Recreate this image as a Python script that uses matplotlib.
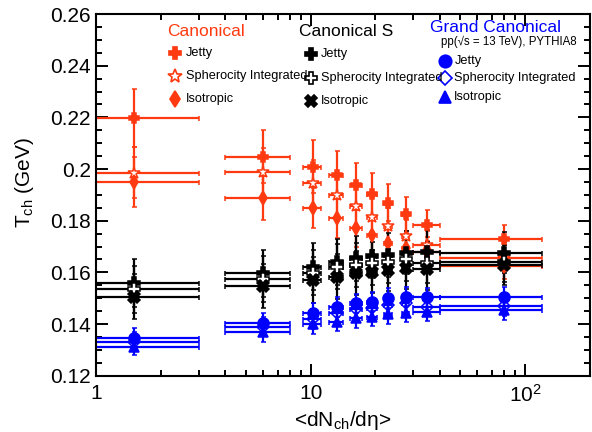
import matplotlib
matplotlib.use("Agg")
import matplotlib.pyplot as plt
from matplotlib.ticker import FixedLocator, LogLocator, NullFormatter, MultipleLocator
import numpy as np

plt.rcParams['font.family'] = ['Liberation Sans', 'DejaVu Sans']
plt.rcParams['mathtext.fontset'] = 'custom'
plt.rcParams['mathtext.rm'] = 'Liberation Sans'
plt.rcParams['mathtext.it'] = 'Liberation Sans:italic'

# multiplicity classes
mult = [1.5, 6, 10.2, 13.2, 16.3, 19.3, 23, 27.7, 35, 80]
mult_err = [1.5, 2, 1, 1, 1, 1, 1, 1, 5, 40]

# Canonical
can_jetty = [0.2197, 0.2048, 0.2009, 0.1977, 0.1938, 0.1903, 0.1870, 0.1826, 0.1783, 0.1728]
can_jetty_err = [0.0112, 0.0103, 0.0103, 0.0094, 0.0085, 0.0080, 0.0073, 0.0065, 0.0060, 0.0055]
can_sph = [0.1986, 0.1987, 0.1945, 0.1899, 0.1857, 0.1815, 0.1780, 0.1740, 0.1704, 0.1654]
can_sph_err = [0.0100, 0.0095, 0.0090, 0.0085, 0.0080, 0.0075, 0.0070, 0.0062, 0.0057, 0.0050]
can_iso = [0.1951, 0.1889, 0.1848, 0.1809, 0.1770, 0.1745, 0.1715, 0.1693, 0.1680, 0.1624]
can_iso_err = [0.0097, 0.0085, 0.0077, 0.0077, 0.0072, 0.0070, 0.0065, 0.0060, 0.0055, 0.0050]

# Canonical S
cs_jetty = [0.1558, 0.1596, 0.1622, 0.1641, 0.1654, 0.1663, 0.1667, 0.1676, 0.1680, 0.1676]
cs_jetty_err = [0.0093, 0.0090, 0.0090, 0.0090, 0.0086, 0.0085, 0.0085, 0.0084, 0.0084, 0.0080]
cs_sph = [0.1534, 0.1574, 0.1599, 0.1622, 0.1628, 0.1635, 0.1641, 0.1650, 0.1638, 0.1639]
cs_sph_err = [0.0090, 0.0088, 0.0088, 0.0087, 0.0085, 0.0084, 0.0083, 0.0082, 0.0081, 0.0078]
cs_iso = [0.1506, 0.1547, 0.1570, 0.1583, 0.1596, 0.1603, 0.1609, 0.1616, 0.1612, 0.1628]
cs_iso_err = [0.0086, 0.0085, 0.0088, 0.0087, 0.0085, 0.0084, 0.0083, 0.0082, 0.0081, 0.0078]

# Grand Canonical
gc_jetty = [0.1345, 0.1403, 0.1444, 0.1465, 0.1480, 0.1487, 0.1500, 0.1506, 0.1503, 0.1506]
gc_jetty_err = [0.0039, 0.0041, 0.0036, 0.0038, 0.0038, 0.0038, 0.0038, 0.0038, 0.0038, 0.0038]
gc_sph = [0.1332, 0.1390, 0.1418, 0.1442, 0.1457, 0.1461, 0.1474, 0.1483, 0.1467, 0.1470]
gc_sph_err = [0.0036, 0.0038, 0.0037, 0.0037, 0.0037, 0.0037, 0.0037, 0.0037, 0.0037, 0.0037]
gc_iso = [0.1312, 0.1368, 0.1400, 0.1409, 0.1422, 0.1428, 0.1439, 0.1444, 0.1448, 0.1454]
gc_iso_err = [0.0032, 0.0036, 0.0039, 0.0037, 0.0037, 0.0037, 0.0037, 0.0037, 0.0037, 0.0037]

y_ticks = [0.12, 0.14, 0.16, 0.18, 0.2, 0.22, 0.24, 0.26]
y_ticklabels = ['0.12', '0.14', '0.16', '0.18', '0.2', '0.22', '0.24', '0.26']

RED = '#ff3a10'
BLUE = '#0000ff'
BLACK = 'black'

W, H = 592, 432
fig = plt.figure(figsize=(W / 100, H / 100), dpi=100)
ax = fig.add_axes([96.4 / W, 1 - 375.7 / H, (589.5 - 96.4) / W, (375.7 - 14) / H])

# (values, errors, colour, marker, face, size)
series = [
    (can_jetty, can_jetty_err, RED, 'P', RED, 7.5),
    (can_sph, can_sph_err, RED, '*', 'white', 9.5),
    (can_iso, can_iso_err, RED, 'd', RED, 7),
    (cs_jetty, cs_jetty_err, BLACK, 'P', BLACK, 8),
    (cs_sph, cs_sph_err, BLACK, 'P', 'white', 8),
    (cs_iso, cs_iso_err, BLACK, 'X', BLACK, 8),
    (gc_jetty, gc_jetty_err, BLUE, 'o', BLUE, 8),
    (gc_sph, gc_sph_err, BLUE, 'D', 'none', 6.5),
    (gc_iso, gc_iso_err, BLUE, '^', BLUE, 7.5),
]

for yv, ye, col, mk, fc, ms in series:
    ax.errorbar(mult, yv, xerr=mult_err, yerr=ye, fmt=mk, color=col, mfc=fc, mec=col,
                ms=ms, mew=1.1, elinewidth=1.6, capsize=1.8, capthick=1.4)

ax.set_xscale('log')
ax.set_xlim(1, 200)
ax.set_ylim(0.12, 0.26)

ax.xaxis.set_major_locator(FixedLocator([1, 10, 100]))
ax.xaxis.set_minor_locator(LogLocator(base=10, subs=np.arange(2, 10)))
ax.xaxis.set_minor_formatter(NullFormatter())
ax.set_xticklabels(['1', '10', r'$10^{2}$'])
ax.set_yticks(y_ticks)
ax.set_yticklabels(y_ticklabels)
ax.yaxis.set_minor_locator(MultipleLocator(0.005))

ax.tick_params(which='both', direction='in', top=True, right=True, labelsize=15, width=1.4)
ax.tick_params(which='major', length=8.5)
ax.tick_params(which='minor', length=4)
ax.tick_params(axis='x', pad=6)
ax.tick_params(axis='y', pad=4)
for s in ax.spines.values():
    s.set_linewidth(1.5)

fig.text(343 / W, 1 - 420 / H, '<dN$_{\\mathregular{ch}}$/dη>', fontsize=15, ha='center', va='center')
fig.text(24 / W, 1 - 182 / H, 'T$_{\\mathregular{ch}}$ (GeV)', fontsize=15, ha='center', va='center',
         rotation=90)

# legend blocks
fig.text(206 / W, 1 - 31.7 / H, 'Canonical', color=RED, fontsize=12.5, ha='center', va='center')
fig.text(346 / W, 1 - 31.7 / H, 'Canonical S', color=BLACK, fontsize=12.5, ha='center', va='center')
fig.text(496 / W, 1 - 27.3 / H, 'Grand Canonical', color=BLUE, fontsize=12.5, ha='center', va='center')
fig.text(509 / W, 1 - 42 / H, 'pp(√s = 13 TeV), PYTHIA8', fontsize=8.3, ha='center', va='center')

entry_labels = ['Jetty', 'Spherocity Integrated', 'Isotropic']
legend_cols = [(175, 185.7, [52.7, 76, 99.3]), (311, 321, [54.3, 77.7, 100.7]),
               (445, 454.3, [60.7, 78.3, 97.3])]
for c, (mx, tx, ys) in enumerate(legend_cols):
    for r in range(3):
        yv, ye, col, mk, fc, ms = series[3 * c + r]
        ax.plot([mx / W], [1 - ys[r] / H], mk, color=col, mfc=fc, mec=col, ms=ms + 1, mew=1.2,
                transform=fig.transFigure, clip_on=False)
        fig.text(tx / W, 1 - ys[r] / H, entry_labels[r], fontsize=9.2, ha='left', va='center')

fig.savefig('out.png', dpi=100)
